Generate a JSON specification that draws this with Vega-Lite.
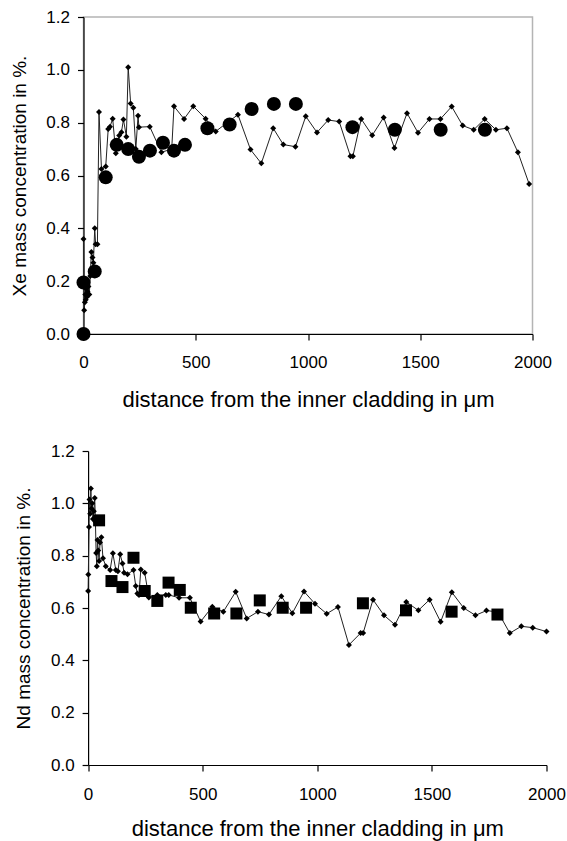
{
  "$schema": "https://vega.github.io/schema/vega-lite/v6.json",
  "padding": {"left": 9.5, "top": 7, "right": 0, "bottom": 5},
  "spacing": 31,
  "config": {
    "font": "Liberation Sans",
    "view": {"stroke": "#b4b4b4", "strokeWidth": 1.5},
    "axis": {
      "labelFontSize": 17, "titleFontWeight": "normal",
      "labelColor": "black", "titleColor": "black", "domainColor": "black",
      "tickColor": "black", "grid": false, "tickSize": 6, "labelFlush": false,
      "domainWidth": 1.2, "tickWidth": 1.2
    },
    "axisX": {"titleFontSize": 22},
    "axisY": {"titleFontSize": 19}
  },
  "datasets": {
    "xe_line": [
      {"d":0,"c":0.36},{"d":3,"c":0.09},{"d":6,"c":0.12},{"d":8,"c":0.15},{"d":10,"c":0.13},{"d":12,"c":0.17},{"d":15,"c":0.14},{"d":18,"c":0.16},{"d":22,"c":0.18},{"d":26,"c":0.15},{"d":30,"c":0.22},{"d":35,"c":0.31},{"d":40,"c":0.29},{"d":44,"c":0.27},{"d":50,"c":0.40},{"d":54,"c":0.34},{"d":62,"c":0.34},{"d":69,"c":0.84},{"d":80,"c":0.625},{"d":99,"c":0.634},{"d":110,"c":0.776},{"d":118,"c":0.785},{"d":130,"c":0.815},{"d":144,"c":0.684},{"d":159,"c":0.751},{"d":169,"c":0.764},{"d":178,"c":0.812},{"d":191,"c":0.747},{"d":199,"c":1.01},{"d":210,"c":0.873},{"d":222,"c":0.856},{"d":233,"c":0.70},{"d":243,"c":0.826},{"d":247,"c":0.783},{"d":295,"c":0.785},{"d":347,"c":0.688},{"d":393,"c":0.70},{"d":403,"c":0.862},{"d":448,"c":0.814},{"d":489,"c":0.862},{"d":544,"c":0.815},{"d":589,"c":0.767},{"d":640,"c":0.80},{"d":688,"c":0.83},{"d":744,"c":0.698},{"d":792,"c":0.646},{"d":845,"c":0.779},{"d":890,"c":0.717},{"d":944,"c":0.709},{"d":990,"c":0.824},{"d":1040,"c":0.763},{"d":1090,"c":0.81},{"d":1139,"c":0.804},{"d":1189,"c":0.673},{"d":1200,"c":0.673},{"d":1237,"c":0.814},{"d":1286,"c":0.752},{"d":1337,"c":0.82},{"d":1385,"c":0.704},{"d":1441,"c":0.836},{"d":1490,"c":0.762},{"d":1541,"c":0.814},{"d":1590,"c":0.814},{"d":1640,"c":0.861},{"d":1689,"c":0.789},{"d":1738,"c":0.773},{"d":1787,"c":0.814},{"d":1837,"c":0.773},{"d":1886,"c":0.779},{"d":1935,"c":0.688},{"d":1985,"c":0.568}
    ],
    "xe_pts": [
      {"d":0,"c":0.0},{"d":0,"c":0.195},{"d":50,"c":0.237},{"d":99,"c":0.593},{"d":148,"c":0.716},{"d":199,"c":0.70},{"d":247,"c":0.671},{"d":296,"c":0.694},{"d":354,"c":0.724},{"d":403,"c":0.694},{"d":452,"c":0.716},{"d":552,"c":0.779},{"d":651,"c":0.793},{"d":749,"c":0.852},{"d":848,"c":0.871},{"d":946,"c":0.871},{"d":1198,"c":0.783},{"d":1387,"c":0.773},{"d":1591,"c":0.773},{"d":1788,"c":0.773}
    ],
    "nd_line": [
      {"d":0,"c":0.665},{"d":1,"c":0.728},{"d":4,"c":0.91},{"d":6,"c":1.015},{"d":9,"c":0.96},{"d":12,"c":1.057},{"d":15,"c":0.98},{"d":18,"c":1.0},{"d":21,"c":0.94},{"d":25,"c":0.97},{"d":29,"c":1.02},{"d":32,"c":0.93},{"d":35,"c":0.81},{"d":38,"c":0.76},{"d":41,"c":0.86},{"d":44,"c":0.82},{"d":48,"c":0.78},{"d":52,"c":0.85},{"d":58,"c":0.87},{"d":65,"c":0.79},{"d":77,"c":0.76},{"d":96,"c":0.745},{"d":108,"c":0.809},{"d":121,"c":0.745},{"d":130,"c":0.74},{"d":140,"c":0.805},{"d":150,"c":0.77},{"d":157,"c":0.735},{"d":172,"c":0.729},{"d":198,"c":0.745},{"d":208,"c":0.684},{"d":215,"c":0.655},{"d":222,"c":0.65},{"d":230,"c":0.747},{"d":247,"c":0.735},{"d":265,"c":0.64},{"d":302,"c":0.65},{"d":339,"c":0.65},{"d":352,"c":0.65},{"d":397,"c":0.639},{"d":444,"c":0.639},{"d":491,"c":0.548},{"d":542,"c":0.605},{"d":590,"c":0.586},{"d":644,"c":0.662},{"d":692,"c":0.56},{"d":741,"c":0.586},{"d":789,"c":0.575},{"d":843,"c":0.645},{"d":891,"c":0.58},{"d":942,"c":0.663},{"d":990,"c":0.616},{"d":1041,"c":0.578},{"d":1090,"c":0.604},{"d":1138,"c":0.459},{"d":1189,"c":0.504},{"d":1200,"c":0.504},{"d":1243,"c":0.632},{"d":1291,"c":0.572},{"d":1339,"c":0.536},{"d":1388,"c":0.623},{"d":1441,"c":0.591},{"d":1490,"c":0.632},{"d":1538,"c":0.547},{"d":1587,"c":0.66},{"d":1639,"c":0.6},{"d":1690,"c":0.572},{"d":1738,"c":0.59},{"d":1788,"c":0.585},{"d":1840,"c":0.504},{"d":1890,"c":0.53},{"d":1940,"c":0.525},{"d":2000,"c":0.51}
    ],
    "nd_pts": [
      {"d":48,"c":0.935},{"d":102,"c":0.703},{"d":150,"c":0.68},{"d":198,"c":0.792},{"d":247,"c":0.665},{"d":302,"c":0.627},{"d":351,"c":0.697},{"d":400,"c":0.669},{"d":448,"c":0.601},{"d":550,"c":0.579},{"d":647,"c":0.579},{"d":749,"c":0.629},{"d":849,"c":0.601},{"d":951,"c":0.601},{"d":1199,"c":0.618},{"d":1387,"c":0.591},{"d":1586,"c":0.586},{"d":1786,"c":0.575}
    ]
  },
  "vconcat": [
    {
      "width": 449, "height": 317,
      "layer": [
        {
          "data": {"name": "xe_line"},
          "mark": {"type": "line", "color": "#222222", "strokeWidth": 1, "point": {"shape": "diamond", "size": 36, "filled": true, "color": "black"}},
          "encoding": {
            "x": {"field": "d", "type": "quantitative", "scale": {"domain": [0, 2000], "nice": false}, "axis": {"values": [0, 500, 1000, 1500, 2000], "format": "d", "labelPadding": 14, "titlePadding": 19, "title": "distance from the inner cladding in μm"}},
            "y": {"field": "c", "type": "quantitative", "scale": {"domain": [0, 1.2], "nice": false}, "axis": {"values": [0, 0.2, 0.4, 0.6, 0.8, 1.0, 1.2], "format": ".1f", "labelPadding": 8, "titlePadding": 16.5, "title": "Xe mass concentration in %."}}
          }
        },
        {
          "data": {"name": "xe_pts"},
          "mark": {"type": "point", "shape": "circle", "size": 196, "filled": true, "color": "black", "opacity": 1},
          "encoding": {
            "x": {"field": "d", "type": "quantitative"},
            "y": {"field": "c", "type": "quantitative"}
          }
        }
      ]
    },
    {
      "width": 463, "height": 314,
      "view": {"stroke": null},
      "layer": [
        {
          "mark": {"type": "rule", "color": "#b4b4b4", "strokeWidth": 1.5},
          "encoding": {
            "x": {"datum": 0, "type": "quantitative"},
            "x2": {"datum": 2000},
            "y": {"datum": 1.2, "type": "quantitative"}
          }
        },
        {
          "mark": {"type": "rule", "color": "#b4b4b4", "strokeWidth": 1.5},
          "encoding": {
            "x": {"datum": 2000, "type": "quantitative"},
            "y": {"datum": 0, "type": "quantitative"},
            "y2": {"datum": 1.2}
          }
        },
        {
          "data": {"name": "nd_line"},
          "mark": {"type": "line", "color": "#222222", "strokeWidth": 1, "point": {"shape": "diamond", "size": 36, "filled": true, "color": "black"}},
          "encoding": {
            "x": {"field": "d", "type": "quantitative", "scale": {"domain": [0, 2000], "nice": false, "range": [4.6, 463]}, "axis": {"values": [0, 500, 1000, 1500, 2000], "format": "d", "labelPadding": 15, "titlePadding": 16, "title": "distance from the inner cladding in μm"}},
            "y": {"field": "c", "type": "quantitative", "scale": {"domain": [0, 1.2], "nice": false}, "axis": {"values": [0, 0.2, 0.4, 0.6, 0.8, 1.0, 1.2], "format": ".1f", "labelPadding": 8, "titlePadding": 16.5, "offset": -4.6, "title": "Nd mass concentration in %."}}
          }
        },
        {
          "data": {"name": "nd_pts"},
          "mark": {"type": "point", "shape": "square", "size": 144, "filled": true, "color": "black", "opacity": 1},
          "encoding": {
            "x": {"field": "d", "type": "quantitative"},
            "y": {"field": "c", "type": "quantitative"}
          }
        }
      ]
    }
  ]
}
